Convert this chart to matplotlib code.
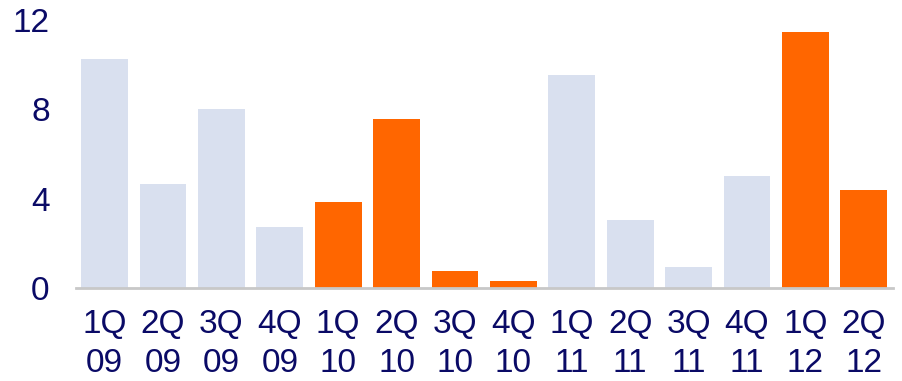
import numpy as np
import matplotlib.pyplot as plt

plt.rcParams['font.family'] = ['Liberation Sans', 'DejaVu Sans']

# Quarterly values
quarters = ["1Q\n09", "2Q\n09", "3Q\n09", "4Q\n09", "1Q\n10", "2Q\n10", "3Q\n10",
            "4Q\n10", "1Q\n11", "2Q\n11", "3Q\n11", "4Q\n11", "1Q\n12", "2Q\n12"]
values = [10.25, 4.65, 8.0, 2.73, 3.85, 7.56, 0.77, 0.33, 9.53, 3.04, 0.94, 5.0, 11.45, 4.38]
highlight = [False, False, False, False, True, True, True, True,
             False, False, False, False, True, True]
yticks = [0, 4, 8, 12]

pale = "#D9E0EF"
orange = "#FF6600"
navy = "#0A0A66"

fig = plt.figure(figsize=(9.02, 3.81), dpi=100)
ax = fig.add_axes([0.0843, 0.244, 0.9057, 0.7035])

x = np.arange(len(values))
colors = [orange if h else pale for h in highlight]
ax.bar(x, values, width=0.80, color=colors, zorder=2)

ax.set_xlim(-0.49, 13.5)
ax.set_ylim(0, 12)
ax.set_yticks(yticks)
ax.set_yticklabels([str(t) for t in yticks])
ax.set_xticks(x)
ax.set_xticklabels(quarters, linespacing=1.34)

for side in ["top", "right", "left"]:
    ax.spines[side].set_visible(False)
ax.spines["bottom"].set_color("#C8C8C8")
ax.spines["bottom"].set_linewidth(2)
ax.spines["bottom"].set_zorder(3)

ax.tick_params(axis="both", length=0, labelsize=24, labelcolor=navy)
ax.tick_params(axis="y", pad=19)
ax.tick_params(axis="x", pad=15)

fig.savefig("out.png", dpi=100)
